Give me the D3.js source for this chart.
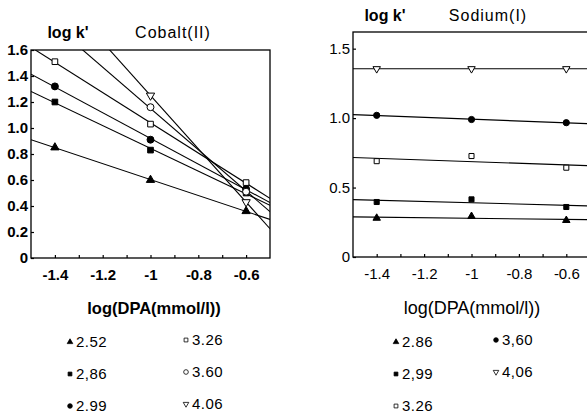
<!DOCTYPE html>
<html>
<head>
<meta charset="utf-8">
<script src="https://cdn.jsdelivr.net/npm/d3@7"></script>
<style>
  body { margin: 0; background: #fff; }
  svg { display: block; font-family: "Liberation Sans", Arial, sans-serif; }
</style>
</head>
<body>
<svg id="chart" width="587" height="414"></svg>
<script>
// x values: log(DPA) concentrations
const xValues = [-1.4, -1.0, -0.6];

// Cobalt(II) series (log k'), one array per log DPA label
const cobaltLabels = ["2.52", "2,86", "2.99", "3.26", "3.60", "4.06"];
const cobaltSymbols = ["triangle", "square", "circle", "squareOpen", "circleOpen", "triangleDown"];
const cobalt252 = [0.85, 0.60, 0.36];
const cobalt286 = [1.20, 0.83, 0.50];
const cobalt299 = [1.32, 0.91, 0.53];
const cobalt326 = [1.51, 1.03, 0.58];
const cobalt360 = [1.78, 1.16, 0.51];
const cobalt406 = [2.07, 1.25, 0.43];

// Sodium(I) series
const sodiumLabels = ["2.86", "2,99", "3.26", "3,60", "4,06"];
const sodiumSymbols = ["triangle", "square", "squareOpen", "circle", "triangleDown"];
const sodium286 = [0.28, 0.293, 0.264];
const sodium299 = [0.396, 0.415, 0.36];
const sodium326 = [0.69, 0.727, 0.643];
const sodium360 = [1.02, 0.99, 0.967];
const sodium406 = [1.355, 1.355, 1.355];

const xTicks = [-1.4, -1.2, -1, -0.8, -0.6];
const cobaltYTicks = [0, 0.2, 0.4, 0.6, 0.8, 1.0, 1.2, 1.4, 1.6];
const sodiumYTicks = [0, 0.5, 1.0, 1.5];

const svg = d3.select("#chart");

// least squares line through a series
function fit(ys) {
    const mx = d3.mean(xValues), my = d3.mean(ys);
    let num = 0, den = 0;
    xValues.forEach((x, i) => { num += (x - mx) * (ys[i] - my); den += (x - mx) * (x - mx); });
    const b = num / den;
    return x => my + b * (x - mx);
}

function drawSymbol(g, type, cx, cy, scale) {
    const filled = !/Open|Down/.test(type);
    const base = type.replace("Open", "");
    let shape;
    if (base === "square") shape = d3.symbolSquare;
    else if (base === "circle") shape = d3.symbolCircle;
    else shape = d3.symbolTriangle;
    const size = (base === "circle" ? 38 : base === "square" ? 32 : 30) * scale;
    g.append("path")
        .attr("d", d3.symbol().type(shape).size(size)())
        .attr("transform", `translate(${cx},${cy})` + (type === "triangleDown" ? " rotate(180)" : ""))
        .attr("fill", filled ? "#000" : "#fff")
        .attr("stroke", "#000")
        .attr("stroke-width", scale < 0.6 ? 0.8 : 1);
}

function drawPanel(opts) {
    const x = d3.scaleLinear().domain([-1.5, -0.5]).range(opts.xRange);
    const y = d3.scaleLinear().domain(opts.yDomain).range(opts.yRange);
    const g = svg.append("g");
    const clipId = "clip" + opts.id;

    svg.append("clipPath").attr("id", clipId)
        .append("rect")
        .attr("x", opts.xRange[0]).attr("y", opts.yRange[1])
        .attr("width", opts.xRange[1] - opts.xRange[0])
        .attr("height", opts.yRange[0] - opts.yRange[1]);

    // fitted lines
    const lines = g.append("g").attr("clip-path", `url(#${clipId})`);
    opts.series.forEach(ys => {
        const f = fit(ys);
        lines.append("line")
            .attr("x1", x(-1.5)).attr("y1", y(f(-1.5)))
            .attr("x2", x(-0.5)).attr("y2", y(f(-0.5)))
            .attr("stroke", "#000").attr("stroke-width", 1.1);
    });

    // markers
    const marks = g.append("g").attr("clip-path", `url(#${clipId})`);
    opts.series.forEach((ys, si) => {
        ys.forEach((v, i) => drawSymbol(marks, opts.symbols[si], x(xValues[i]), y(v), opts.markScale));
    });

    // frame
    g.append("rect")
        .attr("x", opts.xRange[0]).attr("y", opts.yRange[1])
        .attr("width", opts.xRange[1] - opts.xRange[0])
        .attr("height", opts.yRange[0] - opts.yRange[1])
        .attr("fill", "none").attr("stroke", "#000").attr("stroke-width", 1.3);

    // x axis: minor ticks every 0.1, labels on major ticks
    const xAxis = g.append("g")
        .attr("transform", `translate(0,${opts.yRange[0]})`)
        .call(d3.axisBottom(x).tickValues(d3.range(-1.4, -0.5, 0.1)).tickSize(-3).tickFormat(""));
    xAxis.select(".domain").remove();
    xAxis.selectAll("line").attr("stroke-width", 1.2);

    const xLabels = g.append("g")
        .attr("transform", `translate(0,${opts.yRange[0]})`)
        .call(d3.axisBottom(x).tickValues(xTicks).tickSize(0).tickPadding(11)
            .tickFormat(d => String(+d.toFixed(1))));
    xLabels.select(".domain").remove();
    xLabels.selectAll("text")
        .attr("font-size", 15).attr("font-family", "Liberation Sans, Arial, sans-serif")
        .attr("font-weight", opts.bold ? "bold" : "normal");

    // y axis
    const yAxis = g.append("g")
        .attr("transform", `translate(${opts.xRange[0]},0)`)
        .call(d3.axisLeft(y).tickValues(opts.yTicks).tickSize(-3).tickPadding(3)
            .tickFormat(d => d === 0 ? "0" : d3.format(".1f")(d)));
    yAxis.select(".domain").remove();
    yAxis.selectAll("line").attr("stroke-width", 1.2);
    yAxis.selectAll("text")
        .attr("font-size", 15).attr("font-family", "Liberation Sans, Arial, sans-serif")
        .attr("font-weight", opts.bold ? "bold" : "normal");

    // titles
    g.append("text").attr("x", opts.logkX).attr("y", opts.titleY)
        .attr("text-anchor", "middle").attr("font-size", 16).attr("font-weight", "bold")
        .text("log k'");
    g.append("text").attr("x", opts.nameX).attr("y", opts.titleY)
        .attr("text-anchor", "middle").attr("font-size", 16).attr("letter-spacing", 1)
        .text(opts.name);
    g.append("text").attr("x", opts.axisTitleX).attr("y", 314)
        .attr("text-anchor", "middle")
        .attr("font-size", opts.bold ? 16.5 : 18)
        .attr("font-weight", opts.bold ? "bold" : "normal")
        .text(opts.axisTitle);

    // legend
    opts.labels.forEach((lab, i) => {
        const col = Math.floor(i / 3), row = i % 3;
        const lx = opts.legendX[col], ly = 347 + row * 32 - col * 2;
        drawSymbol(g, opts.symbols[i], lx, ly - 5, 0.45);
        g.append("text").attr("x", lx + 6).attr("y", ly)
            .attr("font-size", 15).attr("letter-spacing", 0.5).text(lab);
    });
}

drawPanel({
    id: "co", name: "Cobalt(II)", bold: true,
    xRange: [31, 270], yDomain: [0, 1.6], yRange: [258, 50], yTicks: cobaltYTicks,
    series: [cobalt252, cobalt286, cobalt299, cobalt326, cobalt360, cobalt406],
    symbols: cobaltSymbols, labels: cobaltLabels,
    logkX: 68, nameX: 173, titleY: 38, axisTitleX: 154, axisTitle: "log(DPA(mmol/l))",
    legendX: [70, 186], markScale: 1
});

drawPanel({
    id: "na", name: "Sodium(I)", bold: false,
    xRange: [353, 590], yDomain: [0, 1.62], yRange: [257, 32], yTicks: sodiumYTicks,
    series: [sodium286, sodium299, sodium326, sodium360, sodium406],
    symbols: sodiumSymbols, labels: sodiumLabels,
    logkX: 385, nameX: 488, titleY: 21, axisTitleX: 472, axisTitle: "log(DPA(mmol/l))",
    legendX: [396, 496], markScale: 0.8
});
</script>
</body>
</html>
